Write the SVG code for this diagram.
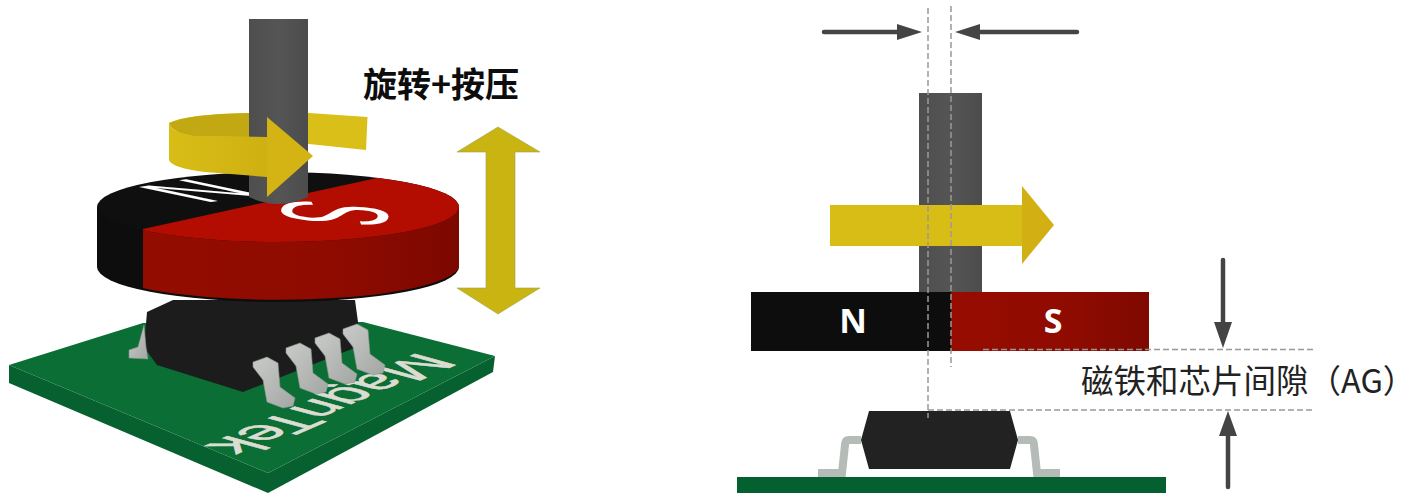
<svg xmlns="http://www.w3.org/2000/svg" width="1419" height="493" viewBox="0 0 1419 493">
<style>
.arrow{stroke:#444;stroke-width:4.500;stroke-linecap:round;fill:none}
.head{fill:#444}
.dash{stroke:#999;stroke-width:1.5;stroke-dasharray:6 3;fill:none}
.pole{font-family:"Noto Sans","Liberation Sans",sans-serif;font-weight:700;font-size:34px;fill:#fff;text-anchor:middle}
.disc{font-family:"Liberation Sans",sans-serif;font-size:40px;fill:#fff}
.lead{fill:url(#lead);stroke:#8d938f;stroke-width:.6}
</style>
<defs>
<linearGradient id="shaft" x1="0" x2="1" y1="0" y2="0"><stop offset="0" stop-color="#4e4e4e"/><stop offset=".5" stop-color="#555"/><stop offset="1" stop-color="#4c4c4c"/></linearGradient>
<linearGradient id="rside" x1="0" x2="1" y1="0" y2="0"><stop offset="0" stop-color="#930c00"/><stop offset=".6" stop-color="#8f0b00"/><stop offset="1" stop-color="#7c0800"/></linearGradient>
<linearGradient id="sbar" x1="0" x2="1" y1="0" y2="0"><stop offset="0" stop-color="#980c00"/><stop offset=".6" stop-color="#8f0b00"/><stop offset="1" stop-color="#7e0900"/></linearGradient>
<linearGradient id="yel" x1="0" x2="1" y1="0" y2="0"><stop offset="0" stop-color="#d8bd16"/><stop offset="1" stop-color="#cfb012"/></linearGradient>
<linearGradient id="lead" x1="0" x2="1" y1="0" y2="1"><stop offset="0" stop-color="#c9cbc8"/><stop offset="1" stop-color="#a3a7a4"/></linearGradient>
<clipPath id="discTop"><ellipse cx="278" cy="207" rx="181" ry="35"/></clipPath>
<polygon id="leadS" class="lead" points="253,362 267,357 278,363 280,387 295,398 293,406 283,408 267,402 263,380 253,367"/>
</defs>

<g id="pcb-left">
<polygon points="9,383 268,493 493,372 495,356 268,473 9,365" fill="#07602f"/>
<polygon points="9,365 143,323 363,322 495,356 268,473" fill="#0a6e35"/>
<text transform="matrix(-.98 .43 -1.1 -.3 419 352)" font-family="Liberation Sans,sans-serif" font-size="54" fill="#dcdcd2" stroke="#dcdcd2" stroke-width=".8">MagnTek</text>
</g>
<g id="chip-left">
<path d="M144,347 L147,312 L173,300 L355,300 L358,322 L362,345 L243,392 L157,365 Z" fill="#1c1c1c"/>
<polygon class="lead" points="144,325 138,347 129,350 129,358 148,359 146,347"/>
<use href="#leadS" transform="translate(90,-33)"/>
<use href="#leadS" transform="translate(62,-24)"/>
<use href="#leadS" transform="translate(33,-14)"/>
<use href="#leadS"/>
</g>
<g id="magnet-left">
<path d="M97,207 V267 A181,35 0 0 0 459,267 V207 Z" fill="#0d0d0d"/>
<path d="M143,229 V288 A181,35 0 0 0 459,267 V207 Z" fill="url(#rside)"/>
<ellipse cx="278" cy="207" rx="181" ry="35" fill="#0f0f0f"/>
<polygon points="377,178 143,229 143,260 470,260 470,150 377,150" fill="#b30c00" clip-path="url(#discTop)"/>
<text class="disc" transform="matrix(-2.1 .35 -2.6 -.55 193 178)">N</text>
<text class="disc" transform="matrix(-.3 .8 -3.77 -.33 287 198)">S</text>
</g>
<g id="rotation-arrow">
<path d="M169,123 Q185,114 249,113 H309 L367.500,117 L366,150 L309,144 H249 L180,134 Z" fill="#d9bf18"/>
<path d="M169,123 Q190,114 249,113 V137 L195,136 Q172,133 169,123 Z" fill="#c2a812"/>
</g>
<g id="shaft-left">
<path d="M249,19 H308 V197 Q278,211 249,197 Z" fill="url(#shaft)"/>
<path d="M169,123 Q172,133 195,136 L267,137 V177 L205,172 Q172,168 169,160 Z" fill="url(#yel)"/>
<polygon points="267,117 313,156 267,197" fill="#d4b414"/>
</g>
<g id="title"><text x="363" y="97" font-family="Noto Sans CJK SC,sans-serif" font-weight="700" font-size="34" fill="#0d0d0d">旋转+按压</text></g>
<g id="press-arrow"><polygon points="498,127 540,152 515,152 515,288 540,288 498,314 457,288 486,288 486,152 457,152" fill="#c9b412" stroke="#9aa24a" stroke-width=".6"/></g>

<g id="shaft-right"><rect x="919" y="93" width="63" height="199" fill="url(#shaft)"/></g>
<g id="yellow-arrow"><rect x="830" y="205" width="193" height="41" fill="#d8bd16"/><polygon points="1022,186 1054,225 1022,264" fill="#d2b014"/></g>
<g id="magnet-right">
<rect x="751" y="292" width="200" height="59" fill="#0d0d0d"/>
<rect x="951" y="292" width="198" height="59" fill="url(#sbar)"/>
<text class="pole" x="853" y="333">N</text>
<text class="pole" x="1053" y="333">S</text>
</g>
<g id="chip-right">
<path d="M861,440 H849 Q845,440 845,445 L842,473 H818" fill="none" stroke="#b5bcb8" stroke-width="8"/>
<path d="M1018,440 H1030 Q1034,440 1034,445 L1037,473 H1060" fill="none" stroke="#b5bcb8" stroke-width="8"/>
<polygon points="869,411 1010,411 1018,440 1010,469 869,469 861,440" fill="#222"/>
</g>
<g id="pcb-right"><rect x="737" y="477" width="429" height="16" fill="#056030"/></g>
<g id="label-ag"><text x="1081" y="393" font-family="Noto Sans CJK SC,sans-serif" font-size="32.500" fill="#222">磁铁和芯片间隙（AG）</text></g>

<g id="connectors">
<path class="dash" d="M928,8 V418"/>
<path class="dash" d="M951,6 V367"/>
<path class="dash" d="M983,349.500 H1313"/>
<path class="dash" d="M928,410 H1313"/>
<path class="arrow" d="M824,32 H897"/><polygon class="head" points="897,24 922,32 897,40"/>
<path class="arrow" d="M1077,32 H980"/><polygon class="head" points="980,24 955,32 980,40"/>
<path class="arrow" d="M1223,260 V322"/><polygon class="head" points="1214,322 1232,322 1223,348"/>
<path class="arrow" d="M1228,487 V436"/><polygon class="head" points="1219,436 1237,436 1228,411"/>
</g>
</svg>
